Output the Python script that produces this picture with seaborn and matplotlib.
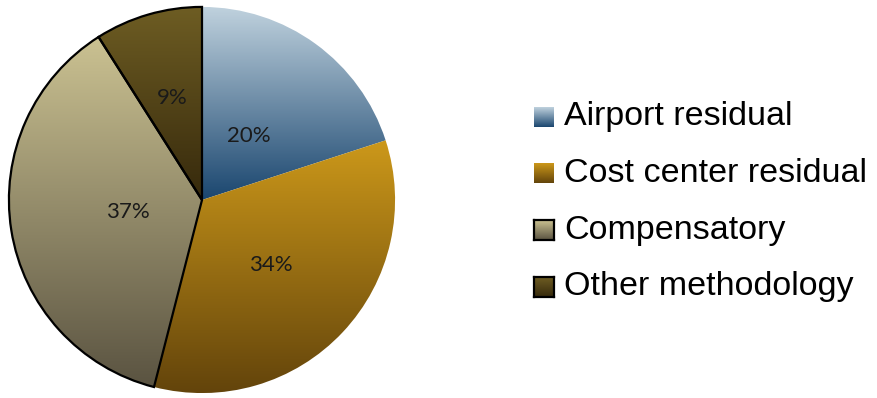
import numpy as np
import matplotlib
matplotlib.use("Agg")
import matplotlib.pyplot as plt
import seaborn as sns

sns.set_theme(style="white")

# Share of each allocation methodology (percent)
categories = ["Airport residual", "Cost center residual", "Compensatory", "Other methodology"]
shares = [20, 34, 37, 9]

# Vertical gradient (top colour, bottom colour) for every slice
gradients = [
    ("#c0d2de", "#1a466f"),
    ("#cc981a", "#63440b"),
    ("#cbc292", "#5a5341"),
    ("#6e5d23", "#36290c"),
]
outlined = [False, False, True, True]
label_radius = [0.41, 0.49, 0.39, 0.55]

W, H = 878, 398
fig = plt.figure(figsize=(W / 100, H / 100), dpi=100)
fig.patch.set_facecolor("white")

cx, cy, R = 202, 200, 195
ax = fig.add_axes([(cx - R) / W, (H - cy - R) / H, 2 * R / W, 2 * R / H])
ax.axis("off")

wedges, _ = ax.pie(shares, startangle=90, counterclock=False, radius=1,
                   wedgeprops=dict(linewidth=0))

grad = np.linspace(0, 1, 256).reshape(-1, 1)
for w, (top, bottom), edge, r_lab, val in zip(wedges, gradients, outlined, label_radius, shares):
    cmap = sns.blend_palette([top, bottom], n_colors=256, as_cmap=True)
    w.set_facecolor("none")
    bb = w.get_path().get_extents(w.get_patch_transform())
    img = ax.imshow(grad, cmap=cmap, aspect="auto", origin="upper",
                    extent=[bb.x0, bb.x1, bb.y0, bb.y1], zorder=1)
    img.set_clip_path(w)
    if edge:
        w.set_edgecolor("black")
        w.set_linewidth(1.6)
    w.set_zorder(2)
    mid = np.deg2rad((w.theta1 + w.theta2) / 2)
    ax.text(r_lab * np.cos(mid), r_lab * np.sin(mid), f"{val}%",
            ha="center", va="center", fontsize=16, family="Lato",
            color="#1a1a1a", zorder=3)

ax.set_xlim(-1.01, 1.01)
ax.set_ylim(-1.01, 1.01)
ax.set_aspect("equal")

# Legend with gradient swatches
ys = [117, 173, 230, 287]
sq = 20
for name, (top, bottom), edge, y in zip(categories, gradients, outlined, ys):
    cax = fig.add_axes([534 / W, (H - y - sq / 2) / H, sq / W, sq / H])
    cmap = sns.blend_palette([top, bottom], n_colors=256, as_cmap=True)
    cax.imshow(grad, cmap=cmap, aspect="auto", extent=[0, 1, 0, 1])
    cax.set_xlim(0, 1)
    cax.set_ylim(0, 1)
    cax.set_xticks([])
    cax.set_yticks([])
    for s in cax.spines.values():
        s.set_visible(edge)
        s.set_color("black")
        s.set_linewidth(1.6)
    fig.text(564 / W, (H - y) / H, name, ha="left", va="center",
             fontsize=24.5, family="Liberation Sans", color="black")

fig.savefig("out.png", dpi=100, facecolor="white")
